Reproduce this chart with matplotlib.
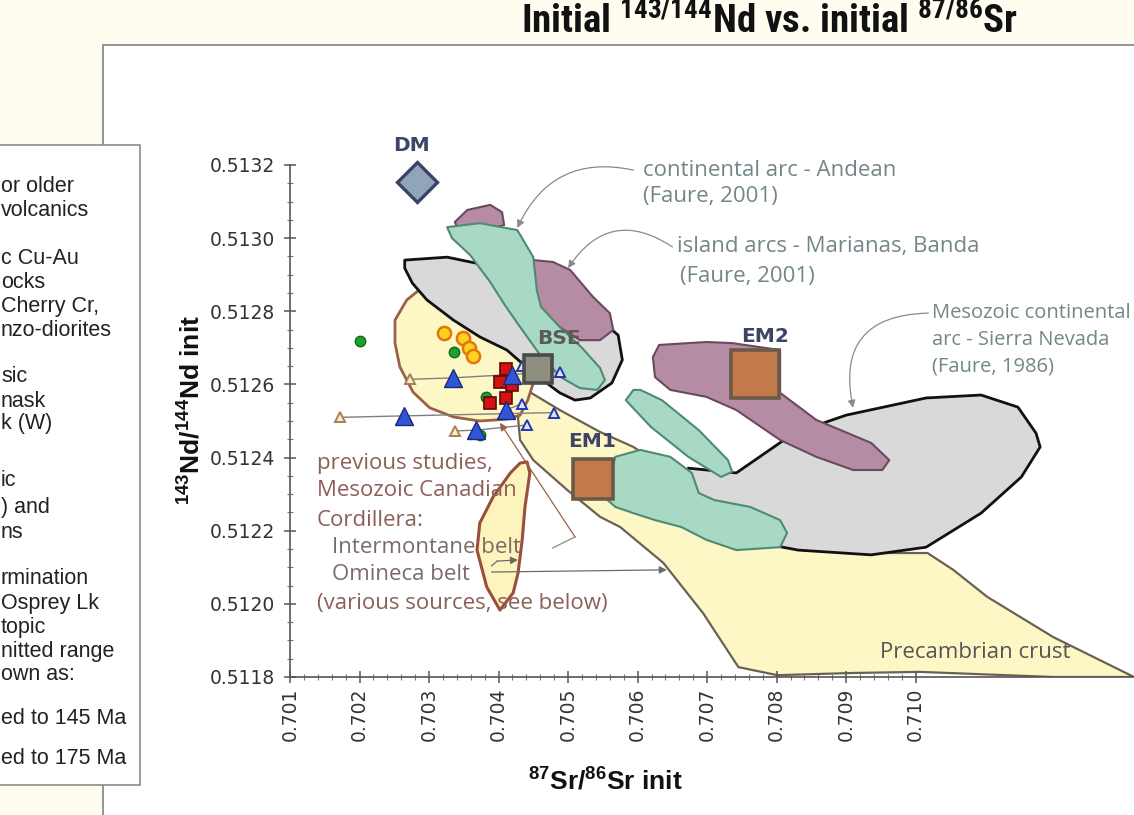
import matplotlib
matplotlib.use("Agg")
import matplotlib.pyplot as plt
import numpy as np
from matplotlib import font_manager
from matplotlib.patches import Rectangle
from matplotlib.ticker import FixedLocator

installed = {f.name for f in font_manager.fontManager.ttflist}


def pick(*names):
    for n in names:
        if n in installed:
            return n
    return "DejaVu Sans"


ARIAL = pick("Liberation Sans", "Arimo")
NARROW = pick("Liberation Sans Narrow", "Roboto Condensed", "Liberation Sans")
GOTHIC = pick("Open Sans", "Lato")

plt.rcParams["font.family"] = "DejaVu Sans"
plt.rcParams["mathtext.fontset"] = "custom"
plt.rcParams["mathtext.bf"] = f"{ARIAL}:bold"
plt.rcParams["mathtext.sf"] = f"{NARROW}:bold"

# ---- samples: (87Sr/86Sr init, 143Nd/144Nd init) ----
green_sr = [0.70201, 0.70336, 0.70382, 0.70373]
green_nd = [0.512720, 0.512688, 0.512565, 0.512462]
yellow_sr = [0.70321, 0.70349, 0.70358, 0.70363]
yellow_nd = [0.512740, 0.512726, 0.512699, 0.512678]
red_sr = [0.70411, 0.70402, 0.70419, 0.70411, 0.70388]
red_nd = [0.512641, 0.512607, 0.512598, 0.512562, 0.512550]

# samples shown with their recalculated ranges
blue_sr = [0.70335, 0.70419, 0.70264, 0.70368, 0.70411]
blue_nd = [0.512618, 0.512626, 0.512514, 0.512475, 0.512530]
calc_a_sr = [0.70273, np.nan, 0.70172, 0.70337, np.nan]
calc_a_nd = [0.512614, np.nan, 0.512510, 0.512473, np.nan]
calc_b_sr = [0.70489, 0.70433, 0.70480, 0.70441, 0.70433]
calc_b_nd = [0.512635, 0.512650, 0.512523, 0.512489, 0.512547]

# mantle end-members
em_names = ["DM", "BSE", "EM1", "EM2"]
em_sr = [0.70283, 0.70457, 0.70536, 0.70769]
em_nd = [0.513154, 0.512642, 0.512341, 0.512629]

# ---- reference fields (outlines) ----
prec_sr = [0.70445, 0.70488, 0.70546, 0.70594, 0.70632, 0.70690, 0.70747, 0.70834,
           0.70920, 0.71017, 0.71054, 0.71103, 0.71198, 0.71314, 0.71198, 0.71006,
           0.70910, 0.70801, 0.70745, 0.70694, 0.70637, 0.70575, 0.70546, 0.70499,
           0.70450, 0.70431, 0.70428, 0.70434]
prec_nd = [0.512579, 0.512530, 0.512470, 0.512429, 0.512380, 0.512284, 0.512207, 0.512153,
           0.512139, 0.512139, 0.512093, 0.512019, 0.511909, 0.511800, 0.511800, 0.511814,
           0.511811, 0.511805, 0.511827, 0.511975, 0.512112, 0.512210, 0.512238, 0.512311,
           0.512393, 0.512448, 0.512508, 0.512557]

interm_sr = [0.70268, 0.70251, 0.70251, 0.70258, 0.70277, 0.70301, 0.70335, 0.70373,
             0.70412, 0.70431, 0.70442, 0.70450, 0.70438, 0.70388, 0.70330, 0.70291]
interm_nd = [0.512831, 0.512776, 0.512713, 0.512648, 0.512579, 0.512536, 0.512511, 0.512500,
             0.512505, 0.512516, 0.512557, 0.512604, 0.512694, 0.512804, 0.512858, 0.512866]

narrow_sr = [0.70441, 0.70445, 0.70438, 0.70434, 0.70428, 0.70421, 0.70402, 0.70383,
             0.70369, 0.70373, 0.70392, 0.70417, 0.70431]
narrow_nd = [0.512388, 0.512358, 0.512265, 0.512175, 0.512084, 0.512030, 0.511983, 0.512046,
             0.512147, 0.512221, 0.512292, 0.512358, 0.512385]

oib_sr = [0.70265, 0.70326, 0.70359, 0.70431, 0.70503, 0.70546, 0.70572, 0.70578, 0.70563,
          0.70532, 0.70510, 0.70488, 0.70467, 0.70445, 0.70412, 0.70373, 0.70335, 0.70297,
          0.70276, 0.70265]
oib_nd = [0.512940, 0.512948, 0.512935, 0.512907, 0.512845, 0.512776, 0.512735, 0.512667,
          0.512604, 0.512563, 0.512557, 0.512577, 0.512607, 0.512639, 0.512694, 0.512730,
          0.512776, 0.512831, 0.512877, 0.512918]

sierra_sr = [0.70673, 0.70742, 0.70825, 0.70900, 0.71015, 0.71094, 0.71147, 0.71173, 0.71179,
             0.71152, 0.71094, 0.71015, 0.70936, 0.70831, 0.70699, 0.70647, 0.70657]
sierra_nd = [0.512371, 0.512358, 0.512467, 0.512516, 0.512563, 0.512571, 0.512538, 0.512467,
             0.512429, 0.512347, 0.512248, 0.512155, 0.512134, 0.512147, 0.512194, 0.512238,
             0.512320]

island_top_sr = [0.70337, 0.70355, 0.70388, 0.70405, 0.70408, 0.70373, 0.70345]
island_top_nd = [0.513044, 0.513077, 0.513091, 0.513071, 0.513036, 0.513014, 0.513014]

island_sr = [0.70450, 0.70478, 0.70503, 0.70536, 0.70560, 0.70565, 0.70546, 0.70517, 0.70488,
             0.70460, 0.70453]
island_nd = [0.512940, 0.512935, 0.512913, 0.512839, 0.512795, 0.512749, 0.512721, 0.512721,
             0.512757, 0.512804, 0.512858]

em2_field_sr = [0.70631, 0.70699, 0.70736, 0.70805, 0.70805, 0.70857, 0.70936, 0.70962, 0.70952,
                0.70910, 0.70857, 0.70805, 0.70742, 0.70699, 0.70647, 0.70625, 0.70622]
em2_field_nd = [0.512708, 0.512716, 0.512713, 0.512694, 0.512577, 0.512503, 0.512440, 0.512393,
                0.512366, 0.512366, 0.512402, 0.512448, 0.512530, 0.512566, 0.512585, 0.512620,
                0.512675]

andean_sr = [0.70326, 0.70373, 0.70427, 0.70450, 0.70455, 0.70461, 0.70488, 0.70520, 0.70546,
             0.70553, 0.70542, 0.70517, 0.70491, 0.70460, 0.70431, 0.70409, 0.70388, 0.70359,
             0.70333]
andean_nd = [0.513030, 0.513041, 0.513022, 0.512948, 0.512858, 0.512812, 0.512757, 0.512700,
             0.512645, 0.512612, 0.512585, 0.512590, 0.512618, 0.512680, 0.512757, 0.512817,
             0.512880, 0.512954, 0.513000]

strip_sr = [0.70594, 0.70583, 0.70619, 0.70673, 0.70720, 0.70736, 0.70730, 0.70688, 0.70635,
            0.70604]
strip_nd = [0.512585, 0.512557, 0.512484, 0.512402, 0.512347, 0.512361, 0.512393, 0.512475,
            0.512557, 0.512585]

em1_field_sr = [0.70552, 0.70568, 0.70604, 0.70647, 0.70678, 0.70688, 0.70710, 0.70762, 0.70805,
                0.70815, 0.70805, 0.70742, 0.70699, 0.70663, 0.70625, 0.70594, 0.70568]
em1_field_nd = [0.512292, 0.512402, 0.512421, 0.512402, 0.512358, 0.512303, 0.512284, 0.512265,
                0.512229, 0.512194, 0.512155, 0.512147, 0.512175, 0.512210, 0.512229, 0.512248,
                0.512265]

x_ticks = [0.701, 0.702, 0.703, 0.704, 0.705, 0.706, 0.707, 0.708, 0.709, 0.710]
y_ticks = [0.5118, 0.5120, 0.5122, 0.5124, 0.5126, 0.5128, 0.5130, 0.5132]

legend_lines = ["or older", "volcanics", "c Cu-Au", "ocks", "Cherry Cr,", "nzo-diorites",
                "sic", "nask", "k (W)", "ic", ") and", "ns", "rmination", "Osprey Lk",
                "topic", "nitted range", "own as:", "ed to 145 Ma", "ed to 175 Ma"]
legend_y = [187, 211, 258, 282, 306, 330, 377, 401, 424, 481, 508, 532, 579, 603, 627, 651,
            674, 719, 759]

W, H = 1134, 815
fig = plt.figure(figsize=(W / 100, H / 100), dpi=100, facecolor="#fffdf0")

# white slide panel and the cut-off legend box
fig.add_artist(Rectangle((103 / W, -0.05), 1.0, (H - 45) / H + 0.05, transform=fig.transFigure,
                         facecolor="white", edgecolor="#8c8c8c", lw=1.3, zorder=-2))
fig.add_artist(Rectangle((-0.01, 30 / H), 0.01 + 140 / W, 640 / H, transform=fig.transFigure,
                         facecolor="white", edgecolor="#8c8c8c", lw=1.2, zorder=-1))
for txt, yy in zip(legend_lines, legend_y):
    fig.text(1 / W, 1 - yy / H, txt, ha="left", va="center", family=ARIAL, size=15.5,
             color="#222222")

fig.text(770 / W, 1 - 22 / H, r"Initial $^{\mathsf{143/144}}$Nd vs. initial $^{\mathsf{87/86}}$Sr",
         ha="center", va="center", family=NARROW, weight="bold", size=28, color="#111111")

ax = fig.add_axes([290 / W, (H - 677) / H, (W - 290) / W, 512 / H])
ax.set_facecolor("none")
ax.set_xlim(0.701, 0.71314)
ax.set_ylim(0.5118, 0.5132)

fill_kw = dict(joinstyle="round")
ax.fill(prec_sr, prec_nd, facecolor="#fdf7c6", edgecolor="#6b6152", lw=1.6, zorder=1, **fill_kw)
ax.fill(interm_sr, interm_nd, facecolor="#fdf7c6", edgecolor="#9c5f48", lw=2.0, zorder=1.1, **fill_kw)
ax.fill(narrow_sr, narrow_nd, facecolor="#fdf4bd", edgecolor="#9a4f3a", lw=2.2, zorder=1.2, **fill_kw)
ax.fill(oib_sr, oib_nd, facecolor="#d9d9d9", edgecolor="#111111", lw=2.0, zorder=2, **fill_kw)
ax.fill(sierra_sr, sierra_nd, facecolor="#d9d9d9", edgecolor="#111111", lw=2.0, zorder=2, **fill_kw)
purple = dict(facecolor="#b58ca3", edgecolor="#6a4a5e", lw=1.5, zorder=3, **fill_kw)
ax.fill(island_top_sr, island_top_nd, **purple)
ax.fill(island_sr, island_nd, **purple)
ax.fill(em2_field_sr, em2_field_nd, **purple)
teal = dict(facecolor="#a8d9c4", edgecolor="#4e8b73", lw=1.5, zorder=4, **fill_kw)
ax.fill(andean_sr, andean_nd, **teal)
ax.fill(strip_sr, strip_nd, **teal)
ax.fill(em1_field_sr, em1_field_nd, **teal)

# tie lines to recalculated values
for i in range(len(blue_sr)):
    xs = [calc_a_sr[i], blue_sr[i], calc_b_sr[i]]
    ys = [calc_a_nd[i], blue_nd[i], calc_b_nd[i]]
    pts = [(x, y) for x, y in zip(xs, ys) if not np.isnan(x)]
    ax.plot([p[0] for p in pts], [p[1] for p in pts], color="#808080", lw=1.0, zorder=5)

ax.plot(calc_a_sr, calc_a_nd, ls="none", marker="^", ms=7, mfc="#f7eed6", mec="#a8804f",
        mew=1.4, zorder=6)
ax.plot(calc_b_sr, calc_b_nd, ls="none", marker="^", ms=7, mfc="#dfe3ff", mec="#2336b0",
        mew=1.4, zorder=6)
ax.plot(green_sr, green_nd, ls="none", marker="o", ms=7.5, mfc="#1fa02e", mec="#0e6a1b",
        mew=1.0, zorder=6)
ax.plot(yellow_sr, yellow_nd, ls="none", marker="o", ms=9.5, mfc="#ffd21f", mec="#e0780a",
        mew=1.8, zorder=6)
ax.plot(red_sr, red_nd, ls="none", marker="s", ms=8, mfc="#d81010", mec="#5a0b0b",
        mew=1.2, zorder=7)
ax.plot(blue_sr, blue_nd, ls="none", marker="^", ms=13, mfc="#2f56d6", mec="#1a2a7a",
        mew=1.0, zorder=7)

# end-members
em_style = {
    "DM": dict(marker="D", ms=20, mfc="#8fa5b8", mec="#3c4262", mew=2.4),
    "BSE": dict(marker="s", ms=20, mfc="#8e8e80", mec="#4a4a48", mew=2.6),
    "EM1": dict(marker="s", ms=29, mfc="#c27a4c", mec="#6b5a48", mew=2.6),
    "EM2": dict(marker="s", ms=34, mfc="#c27a4c", mec="#6b5a48", mew=2.6),
}
em_label = {"DM": ((-4, 26), "#3d4466"), "BSE": ((15, 22), "#5a5a5a"),
            "EM1": ((-1, 27), "#3d4466"), "EM2": ((7, 27), "#3d4466")}
for name, x, y in zip(em_names, em_sr, em_nd):
    ax.plot([x], [y], ls="none", zorder=8, clip_on=False, **em_style[name])
    off, col = em_label[name]
    ax.annotate(name, (x, y), xytext=off, textcoords="offset points", ha="center",
                va="center", fontsize=14.5, fontweight="bold", color=col, zorder=9)

# annotations
note = dict(family=GOTHIC, fontsize=16, color="#728787", va="center", ha="left")
ax.text(0.70608, 0.513186, "continental arc - Andean", **note)
ax.text(0.70608, 0.513113, "(Faure, 2001)", **note)
ax.text(0.70657, 0.512976, "island arcs - Marianas, Banda", **note)
ax.text(0.70661, 0.512894, "(Faure, 2001)", **note)
sierra_note = dict(note, fontsize=14.5)
ax.text(0.71024, 0.512795, "Mesozoic continental", **sierra_note)
ax.text(0.71024, 0.512721, "arc - Sierra Nevada", **sierra_note)
ax.text(0.71024, 0.512650, "(Faure, 1986)", **sierra_note)

prev = dict(family=GOTHIC, fontsize=16, color="#8c5f57", va="center", ha="left", zorder=10)
ax.text(0.70139, 0.512385, "previous studies,", **prev)
ax.text(0.70139, 0.512311, "Mesozoic Canadian", **prev)
ax.text(0.70139, 0.512229, "Cordillera:", **prev)
ax.text(0.70160, 0.512153, "Intermontane belt", **dict(prev, color="#7a6a68"))
ax.text(0.70160, 0.512079, "Omineca belt", **dict(prev, color="#7a6a68"))
ax.text(0.70139, 0.512002, "(various sources, see below)", **prev)
ax.text(0.70949, 0.511866, "Precambrian crust", **dict(note, color="#555555", zorder=10))

arrow = dict(arrowstyle="-|>", color="#8a8a8a", lw=0.9, shrinkA=0, shrinkB=0,
             mutation_scale=11)
ax.annotate("", xy=(0.70427, 0.513028), xytext=(0.70594, 0.513186),
            arrowprops=dict(arrow, connectionstyle="arc3,rad=0.4"), zorder=10)
ax.annotate("", xy=(0.70500, 0.512918), xytext=(0.70650, 0.512976),
            arrowprops=dict(arrow, connectionstyle="arc3,rad=0.5"), zorder=10)
ax.annotate("", xy=(0.70910, 0.512536), xytext=(0.71018, 0.512795),
            arrowprops=dict(arrow, connectionstyle="arc3,rad=0.6"), zorder=10)
ax.plot([0.70478, 0.70510], [0.512153, 0.512183], color="#8a8a8a", lw=0.9, zorder=10)
ax.annotate("", xy=(0.70402, 0.512495), xytext=(0.70510, 0.512183),
            arrowprops=dict(arrow, color="#9c5f48"), zorder=10)
ax.plot([0.70390, 0.70398], [0.512104, 0.512117], color="#6b6b6b", lw=0.9, zorder=10)
ax.annotate("", xy=(0.70428, 0.512120), xytext=(0.70398, 0.512117),
            arrowprops=dict(arrow, color="#6b6b6b"), zorder=10)
ax.annotate("", xy=(0.70642, 0.512093), xytext=(0.70390, 0.512087),
            arrowprops=dict(arrow, color="#6b6b6b"), zorder=10)

# axes styling
for side in ("top", "right"):
    ax.spines[side].set_visible(False)
for side in ("left", "bottom"):
    ax.spines[side].set_color("#555555")
    ax.spines[side].set_linewidth(1.2)
    ax.spines[side].set_zorder(11)

ax.xaxis.set_major_locator(FixedLocator(x_ticks))
ax.xaxis.set_minor_locator(FixedLocator(np.arange(0.701, 0.71001, 0.0002)))
ax.yaxis.set_major_locator(FixedLocator(y_ticks))
ax.yaxis.set_minor_locator(FixedLocator(np.arange(0.5118, 0.513201, 0.00005)))
ax.set_xticklabels([f"{v:.3f}" for v in x_ticks], rotation=90)
ax.set_yticklabels([f"{v:.4f}" for v in y_ticks])
ax.tick_params(which="major", direction="inout", length=9, width=1.1, color="#555555",
               labelsize=13.5, labelcolor="#333333")
ax.tick_params(axis="y", which="major", pad=6)
ax.tick_params(axis="x", which="major", pad=3)
ax.tick_params(which="minor", direction="inout", length=5, width=0.8, color="#777777")

fig.text(190 / W, 1 - 410 / H, r"$^{\mathbf{143}}$Nd/$^{\mathbf{144}}$Nd init", rotation=90,
         ha="center", va="center", family=ARIAL, weight="bold", size=19, color="#111111")
fig.text(605 / W, 1 - 780 / H, r"$^{\mathbf{87}}$Sr/$^{\mathbf{86}}$Sr init", ha="center",
         va="center", family=ARIAL, weight="bold", size=19, color="#111111")

fig.savefig("out.png", dpi=100, facecolor=fig.get_facecolor())
